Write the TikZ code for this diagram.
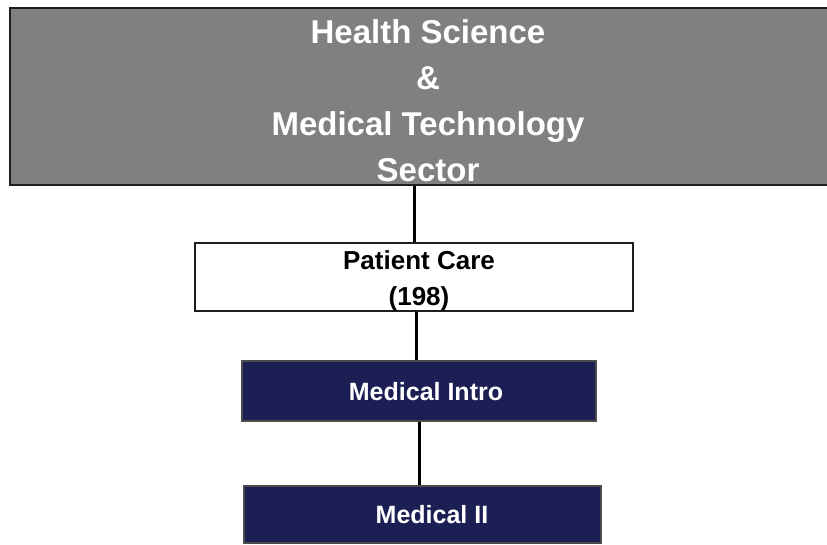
\documentclass[tikz,border=0pt]{standalone}
\usepackage{fontspec}
\setmainfont{Liberation Sans}
\definecolor{sectorgray}{RGB}{128,128,128}
\definecolor{navybox}{RGB}{28,31,84}
\definecolor{edgedark}{RGB}{30,30,30}
\begin{document}
\begin{tikzpicture}[x=1pt,y=-1pt,
  sectorbox/.style={draw=edgedark,line width=2.5pt,fill=sectorgray,text=white,
    font=\fontsize{33}{46}\selectfont\bfseries,align=center,inner sep=0pt},
  pathbox/.style={draw=edgedark,line width=1.8pt,fill=white,text=black,
    font=\fontsize{26}{36}\selectfont\bfseries,align=center,inner sep=0pt},
  coursebox/.style={draw=black!70,line width=1.2pt,fill=navybox,text=white,
    font=\fontsize{25}{30}\selectfont\bfseries,align=center,inner sep=0pt},
  link/.style={line width=3pt,draw=black}]
\clip (0,0) rectangle (827,545);
\fill[white] (0,0) rectangle (827,545);
\node[sectorbox,minimum width=836pt,minimum height=177pt] (sector) at (428,96.5)
  {\rule{0pt}{32pt}Health Science\\\&\\Medical Technology\\Sector};
\node[pathbox,minimum width=438pt,minimum height=68pt] (care) at (414,277)
  {\rule{0pt}{27pt}\hspace*{10pt}Patient Care\\\hspace*{10pt}(198)};
\node[coursebox,minimum width=354pt,minimum height=60pt] (intro) at (419,391)
  {\rule{0pt}{20pt}\hspace*{14pt}Medical Intro};
\node[coursebox,minimum width=357pt,minimum height=57pt] (med2) at (422.5,514.5)
  {\rule{0pt}{19pt}\hspace*{19pt}Medical II};
\draw[link] (sector.south -| care.north) -- (care.north);
\draw[link] (care.south) ++(2,0) coordinate (c2) (c2) -- (c2 |- intro.north);
\draw[link] (intro.south) -- (intro.south |- med2.north);
\end{tikzpicture}
\end{document}
